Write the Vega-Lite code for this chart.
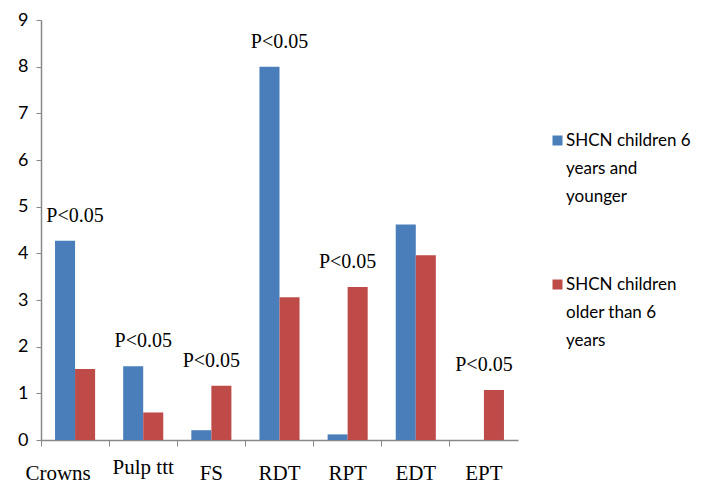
{
  "$schema": "https://vega.github.io/schema/vega-lite/v6.json",
  "autosize": "none",
  "width": 477,
  "height": 420,
  "padding": {"left": 41, "top": 20, "right": 184, "bottom": 58},
  "background": "white",
  "config": {
    "view": {"stroke": null},
    "style": {"guide-label": {"lineHeight": 28}}
  },
  "data": {
    "values": [
      {"category": "Crowns", "group": "SHCN children 6 years and younger", "value": 4.27, "note": "P<0.05"},
      {"category": "Crowns", "group": "SHCN children older than 6 years", "value": 1.52, "note": null},
      {"category": "Pulp ttt", "group": "SHCN children 6 years and younger", "value": 1.58, "note": "P<0.05"},
      {"category": "Pulp ttt", "group": "SHCN children older than 6 years", "value": 0.59, "note": null},
      {"category": "FS", "group": "SHCN children 6 years and younger", "value": 0.21, "note": "P<0.05"},
      {"category": "FS", "group": "SHCN children older than 6 years", "value": 1.16, "note": null},
      {"category": "RDT", "group": "SHCN children 6 years and younger", "value": 8.0, "note": "P<0.05"},
      {"category": "RDT", "group": "SHCN children older than 6 years", "value": 3.06, "note": null},
      {"category": "RPT", "group": "SHCN children 6 years and younger", "value": 0.12, "note": "P<0.05"},
      {"category": "RPT", "group": "SHCN children older than 6 years", "value": 3.28, "note": null},
      {"category": "EDT", "group": "SHCN children 6 years and younger", "value": 4.62, "note": null},
      {"category": "EDT", "group": "SHCN children older than 6 years", "value": 3.96, "note": null},
      {"category": "EPT", "group": "SHCN children 6 years and younger", "value": 0.0, "note": "P<0.05"},
      {"category": "EPT", "group": "SHCN children older than 6 years", "value": 1.07, "note": null}
    ]
  },
  "encoding": {
    "x": {
      "field": "category",
      "type": "nominal",
      "sort": null,
      "scale": {"paddingInner": 0, "paddingOuter": 0},
      "axis": {
        "title": null,
        "labelAngle": 0,
        "bandPosition": 0,
        "labelFont": "Liberation Serif",
        "labelFontSize": 21,
        "labelColor": "black",
        "labelBaseline": "top",
        "labelPadding": {"condition": {"test": "datum.value == 'Pulp ttt'", "value": 10}, "value": 16},
        "labelOffset": {"condition": {"test": "datum.value == 'Crowns'", "value": -17}, "value": 0},
        "tickSize": 6,
        "tickColor": "#888888",
        "domainColor": "#888888",
        "domainWidth": 1.5,
        "labelBound": false,
        "labelOverlap": false
      }
    }
  },
  "layer": [
    {
      "mark": {"type": "bar"},
      "encoding": {
        "xOffset": {"field": "group", "type": "nominal", "scale": {"paddingOuter": 0.7, "paddingInner": 0}},
        "y": {
          "field": "value",
          "type": "quantitative",
          "scale": {"domain": [0, 9], "nice": false},
          "axis": {
            "title": null,
            "values": [0, 1, 2, 3, 4, 5, 6, 7, 8, 9],
            "grid": false,
            "labelFont": "Lato",
            "labelFontSize": 18,
            "labelColor": "black",
            "labelPadding": 8,
            "tickSize": 5,
            "tickColor": "#888888",
            "domainColor": "#888888",
            "domainWidth": 1.5
          }
        },
        "color": {
          "field": "group",
          "type": "nominal",
          "scale": {"range": ["#4A7EBB", "#BE4B48"]},
          "legend": {
            "title": null,
            "orient": "none",
            "legendX": 508,
            "legendY": 112,
            "padding": 0,
            "symbolType": "square",
            "symbolSize": 100,
            "symbolStrokeWidth": 0,
            "labelFont": "Lato",
            "labelFontSize": 17,
            "labelColor": "black",
            "labelLimit": 300,
            "labelOffset": 0,
            "labelBaseline": "middle",
            "rowPadding": 70,
            "labelExpr": "datum.label == 'SHCN children 6 years and younger' ? ['SHCN children 6', 'years and', 'younger'] : ['SHCN children', 'older than 6', 'years']"
          }
        }
      }
    },
    {
      "transform": [
        {"joinaggregate": [{"op": "max", "field": "value", "as": "top"}], "groupby": ["category"]},
        {"filter": "datum.note != null"}
      ],
      "mark": {"type": "text", "font": "Liberation Serif", "fontSize": 20, "baseline": "alphabetic", "dy": -19, "color": "black"},
      "encoding": {
        "y": {"field": "top", "type": "quantitative"},
        "text": {"field": "note"}
      }
    }
  ]
}
